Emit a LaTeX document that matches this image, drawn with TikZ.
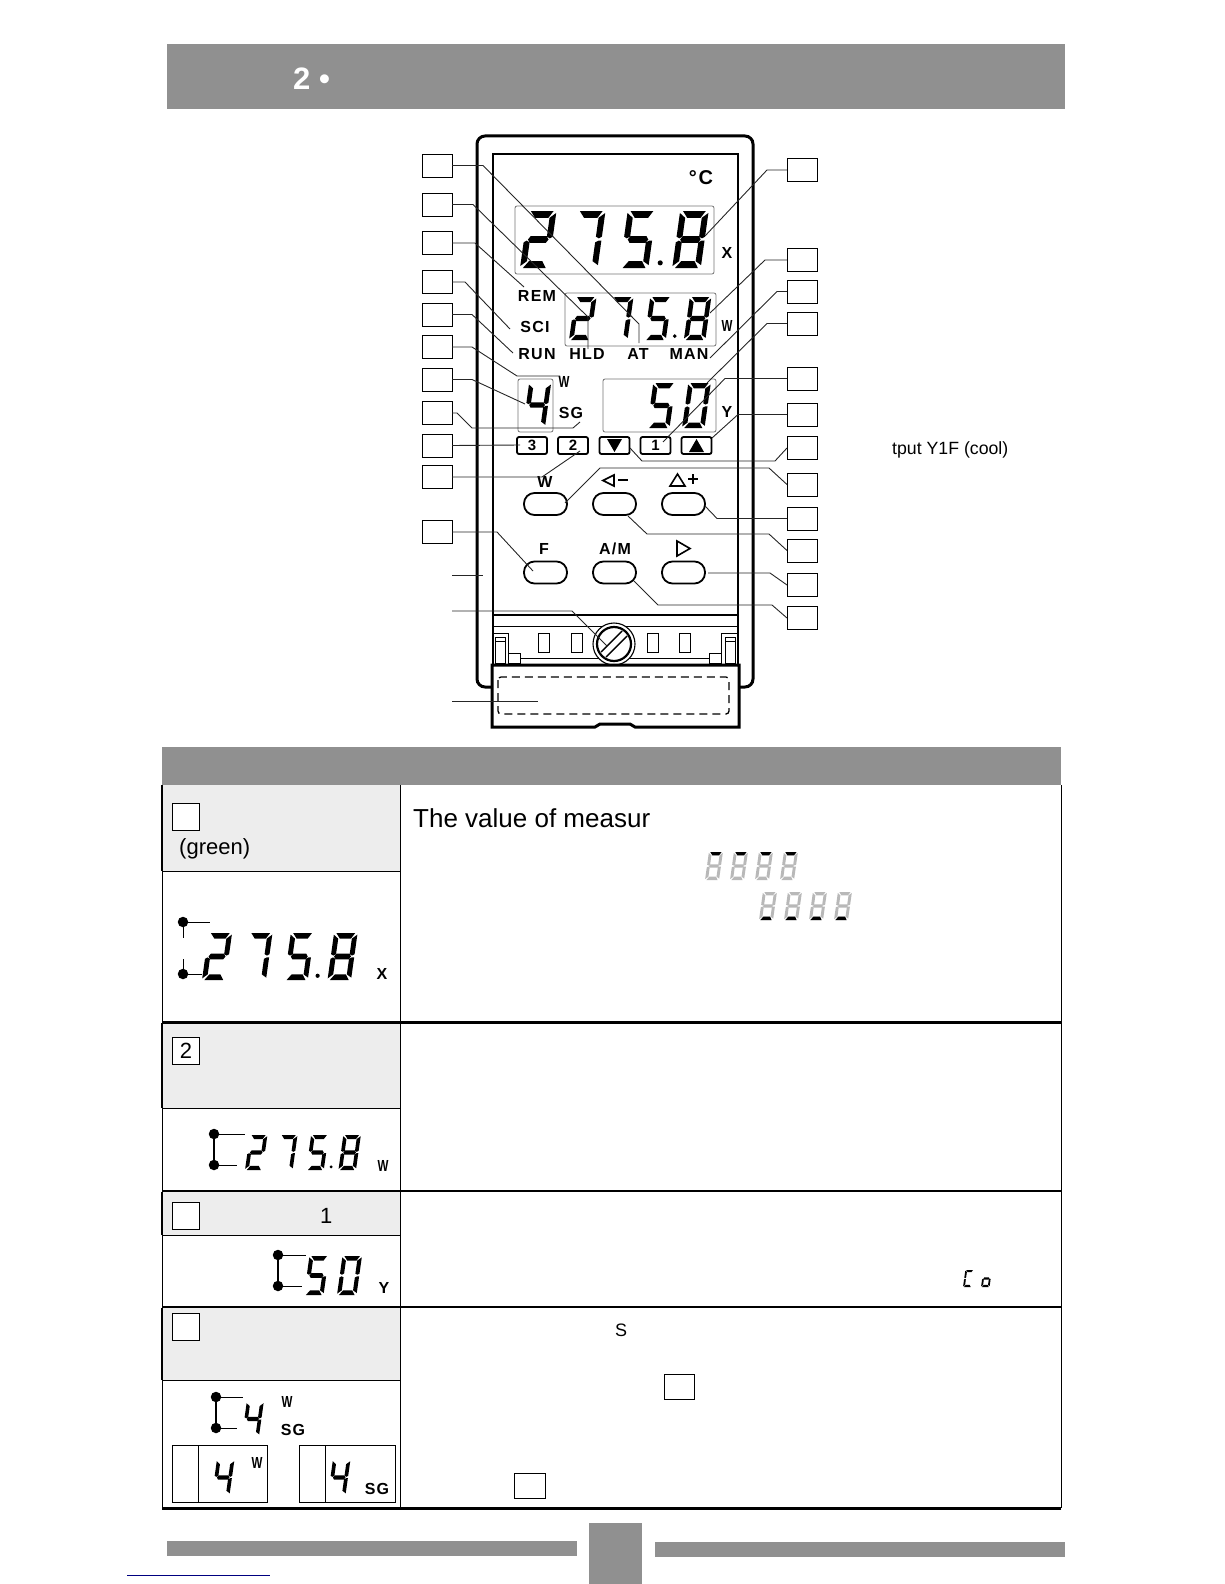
\documentclass[tikz,border=0pt]{standalone}
\usepackage{fontspec}
\usepackage{graphicx}
\setmainfont{Liberation Sans}
\newfontfamily\panelfont[LetterSpace=8]{Liberation Sans}

% segments of one display digit, 10 wide and 20 high
\def\sega{(1,20)--(9,20)--(7.5,17.6)--(2.8,17.6)--cycle}
\def\segb{(10,19.3)--(10,11)--(9,10.4)--(7.9,11)--(7.9,17.6)--cycle}
\def\segc{(10,9.6)--(10,1)--(7.9,2.4)--(7.9,9)--(9,9.6)--cycle}
\def\segd{(1,0)--(9,0)--(7.5,2.4)--(2.8,2.4)--cycle}
\def\sege{(0,9)--(0,.7)--(2.1,2.4)--(2.1,9)--(1,9.6)--cycle}
\def\segf{(0,19.3)--(2.1,17.6)--(2.1,11)--(1,10.4)--(0,11)--cycle}
\def\segg{(2.2,11.2)--(7.8,11.2)--(8.6,10)--(7.8,8.8)--(2.2,8.8)--(1.4,10)--cycle}
\def\dTwo{a,b,g,e,d}
\def\dFour{f,g,b,c}
\def\dFive{a,f,g,c,d}
\def\dSeven{a,b,c}
\def\dEight{a,b,c,d,e,f,g}
\def\dZero{a,b,c,d,e,f}
\def\dCee{a,f,e,d}
\def\dOh{g,c,d,e}
\newcommand{\narrowW}{\scalebox{.72}[1]{W}}

% [colour]{left}{bottom}{height}{segments}
\newcommand{\lcddigit}[5][black]{%
	\begin{scope}[shift={(#2,#3)},y=1pt,scale=#4/20,xslant=.14]
		\edef\seglist{#5}
		\foreach \s in \seglist
		\fill[#1] \csname seg\s\endcsname;
	\end{scope}}
% the value 275.8
\newcommand{\lcdvalue}[3]{%
	\lcddigit{#1}{#2}{#3}{\dTwo}
	\lcddigit{#1+.86*#3}{#2}{#3}{\dSeven}
	\lcddigit{#1+1.75*#3}{#2}{#3}{\dFive}
	\fill (#1+2.46*#3,#2-.09*#3) circle (.045*#3);
	\lcddigit{#1+2.67*#3}{#2}{#3}{\dEight}}

\tikzset{
	tagbox/.style={draw, line width=1pt, fill=white, minimum width=30pt, minimum height=23pt, inner sep=0pt, outer sep=0pt},
	leader/.style={line width=.9pt, black!85},
	lcdbox/.style={draw=black!55, line width=.8pt, rounded corners=2pt},
	keybox/.style={draw, line width=1.8pt, rounded corners=2pt},
	softkey/.style={draw, line width=1.8pt, rounded corners=10.5pt, fill=white},
	paneltext/.style={font=\fontsize{16}{18}\panelfont\bfseries, inner sep=0pt},
	bodytext/.style={font=\fontsize{#1}{#1}\selectfont, anchor=west, inner sep=0pt},
	rowline/.style={line width=1pt},
	boldline/.style={line width=3pt},
	pin/.style={circle, fill, inner sep=0pt, minimum size=10.5pt},
}

\begin{document}
\begin{tikzpicture}[x=1pt,y=-1pt]
	\useasboundingbox (0,0) rectangle (1224,1584);
	\definecolor{barg}{gray}{.565}
	\definecolor{cellg}{gray}{.93}

	% page bars
	\fill[barg] (167,44.5) rectangle (1065,109);
	\node[font=\fontsize{31}{31}\bfseries\selectfont, text=white, anchor=west, inner sep=0pt] (chapter) at (293,79) {2 •};
	\fill[barg] (167,1541) rectangle (577,1556);
	\fill[barg] (655,1542) rectangle (1065,1557);
	\fill[barg] (589,1523) rectangle (642,1584);
	\draw[blue!50!black, line width=1pt] (127,1575) -- (270,1575);

	% housing and front panel
	\draw[line width=3pt, rounded corners=8pt] (492,687) -- (477,687) -- (477,136) -- (753,136) -- (753,687) -- (739,687);
	\draw[line width=1.4pt] (493,665) -- (493,154) -- (738,154) -- (738,665);
	\draw[line width=1.4pt] (493,615) -- (738,615);
	\draw[line width=.8pt] (493,626) -- (738,626);

	\node[font=\fontsize{20}{20}\panelfont\bfseries, inner sep=0pt] (unit) at (701,178) {°C};
	\draw[lcdbox] (515,206) rectangle (714,274);
	\draw[lcdbox] (565,293) rectangle (716,346);
	\draw[lcdbox] (518,379) rectangle (553,432);
	\draw[lcdbox] (603,379) rectangle (716,432);
	\lcdvalue{520}{268}{57}
	\lcdvalue{569}{340}{43}
	\lcddigit{523}{427}{44}{\dFour}
	\lcddigit{647}{428}{45}{\dFive}
	\lcddigit{682}{428}{45}{\dZero}

	\node[paneltext] (rem) at (537,296) {REM};
	\node[paneltext] (sci) at (535,327) {SCI};
	\node[paneltext] (run) at (537,354) {RUN};
	\node[paneltext] (hld) at (587,354) {HLD};
	\node[paneltext] (at) at (638,354) {AT};
	\node[paneltext] (man) at (689,354) {MAN};
	\node[paneltext] (wsmall) at (564,382) {\narrowW};
	\node[paneltext] (sg) at (571,413) {SG};
	\node[paneltext] (xmark) at (727,253) {X};
	\node[paneltext] (wmark) at (727,326) {\narrowW};
	\node[paneltext] (ymark) at (727,412) {Y};

	% lamps under the displays
	\node[keybox, minimum width=30pt, minimum height=17pt, inner sep=0pt, font=\fontsize{15}{15}\bfseries\selectfont] (three) at (532,445.5) {3};
	\node[keybox, minimum width=30pt, minimum height=17pt, inner sep=0pt, font=\fontsize{15}{15}\bfseries\selectfont] (two) at (573,445.5) {2};
	\node[keybox, minimum width=30pt, minimum height=17pt, inner sep=0pt] (down) at (614.5,445.5) {};
	\node[keybox, minimum width=30pt, minimum height=17pt, inner sep=0pt, font=\fontsize{15}{15}\bfseries\selectfont] (one) at (655.5,445.5) {1};
	\node[keybox, minimum width=30pt, minimum height=17pt, inner sep=0pt] (up) at (696.5,445.5) {};
	\fill (607,439) -- (622,439) -- (614.5,452) -- cycle;
	\fill (689,452) -- (704,452) -- (696.5,439) -- cycle;

	% keys
	\node[softkey, minimum width=43pt, minimum height=22pt, inner sep=0pt] (kw) at (545.5,504) {};
	\node[softkey, minimum width=43pt, minimum height=22pt, inner sep=0pt] (kminus) at (614.5,504) {};
	\node[softkey, minimum width=43pt, minimum height=22pt, inner sep=0pt] (kplus) at (683.5,504) {};
	\node[softkey, minimum width=43pt, minimum height=22pt, inner sep=0pt] (kf) at (545.5,572.5) {};
	\node[softkey, minimum width=43pt, minimum height=22pt, inner sep=0pt] (kam) at (614.5,572.5) {};
	\node[softkey, minimum width=43pt, minimum height=22pt, inner sep=0pt] (kright) at (683.5,572.5) {};
	\node[paneltext] (lw) at (545,482) {W};
	\node[paneltext] (lf) at (544,549) {F};
	\node[paneltext] (lam) at (615,549) {A/M};
	\draw[line width=1.6pt] (614,475) -- (603,480.5) -- (614,486) -- cycle;
	\draw[line width=1.6pt] (618,480) -- (628,480);
	\draw[line width=1.6pt] (670,486) -- (685,486) -- (677.5,474) -- cycle;
	\draw[line width=1.6pt] (688,479) -- (698,479) (693,474) -- (693,484);
	\draw[line width=1.6pt] (677,541) -- (690,548.5) -- (677,556) -- cycle;

	% lower strip with the screw
	\foreach \x in {538,571,647,679}
	\draw[line width=1pt] (\x,633) rectangle (\x+11,652);
	\draw[line width=1pt] (493,633) -- (508,633) -- (508,663);
	\draw[line width=.9pt] (495,637) rectangle (505,663) (495,641) -- (505,641);
	\draw[line width=1pt] (737,633) -- (721,633) -- (721,663);
	\draw[line width=.9pt] (725,637) rectangle (735,663) (725,641) -- (735,641);
	\draw[line width=1pt] (508,653) rectangle (520,663);
	\draw[line width=1pt] (709,653) rectangle (721,663);
	\draw[line width=1pt] (520,658) -- (709,658);
	\filldraw[fill=white, line width=1.1pt] (614,644) circle (21);
	\filldraw[fill=white, line width=2.2pt] (614,644) circle (17);
	\draw[line width=1.4pt] (601,652) -- (622,631) (606,657) -- (627,636);

	% cover
	\draw[line width=3pt, fill=white] (492,665) -- (739,665) -- (739,727) -- (635,727) -- (630,724) -- (600,724) -- (595,727) -- (492,727) -- cycle;
	\draw[line width=1.3pt, dash pattern=on 8pt off 5pt, rounded corners=3pt] (498,677) rectangle (729,714);

	% number tags
	\foreach \i/\y in {1/165.5,2/204.5,3/243,4/282,5/314.5,6/347,7/379.5,8/413,9/445.5,10/477,11/532}
	\node[tagbox] (L\i) at (437,\y) {};
	\foreach \i/\y in {1/170,2/260,3/291.5,4/323.5,5/378.5,6/414.5,7/448,8/484.5,9/518.5,10/550.5,11/585,12/618}
	\node[tagbox] (R\i) at (802,\y) {};

	% free ends
	\foreach \n/\p in {t1/{639,343},t2/{588,349},t3/{524,287},t4/{510,329},t5/{513,353},t6/{560,376},t7/{525,404},t8/{580,422},t9/{520,445},t10/{580,451},t11/{533,571},
		u1/{705,236},u2/{710,313},u3/{710,358},u4/{707,383},u5/{663,442},u6/{712,438},u7/{630,448},u8/{565,503},u9/{705,506},u10/{628,516},u11/{708,573},u12/{634,581},
		f1/{452,575},f2/{483,575},f3/{452,611},f4/{607,646},f5/{452,701},f6/{538,701}}
	\coordinate (\n) at (\p);

	\draw[leader] (L1.east) -- ++(31,0) -- (639,324) -- (t1);
	\draw[leader] (L2.east) -- ++(21,0) -- (588,317) -- (t2);
	\draw[leader] (L3.east) -- ++(23,0) -- (t3);
	\draw[leader] (L4.east) -- ++(13,0) -- (t4);
	\draw[leader] (L5.east) -- ++(20,0) -- (t5);
	\draw[leader] (L6.east) -- ++(20,0) -- (517,376) -- (t6);
	\draw[leader] (L7.east) -- ++(20,0) -- (t7);
	\draw[leader] (L8.east) -- ++(5,0) -- (472,428) -- (573,428) -- (t8);
	\draw[leader] (L9.east) -- (t9);
	\draw[leader] (L10.east) -- ++(90,0) -- (t10);
	\draw[leader] (L11.east) -- ++(45,0) -- (t11);

	\draw[leader] (R1.west) -- ++(-20,0) -- (u1);
	\draw[leader] (R2.west) -- ++(-22,0) -- (u2);
	\draw[leader] (R3.west) -- ++(-10,0) -- (u3);
	\draw[leader] (R4.west) -- ++(-20,0) -- (u4);
	\draw[leader] (R5.west) -- ++(-62,0) -- (u5);
	\draw[leader] (R6.west) -- ++(-49,0) -- (u6);
	\draw[leader] (R7.west) -- (775,461) -- (642,461) -- (u7);
	\draw[leader] (R8.west) -- (769,468) -- (600,468) -- (u8);
	\draw[leader] (R9.west) -- ++(-70,0) -- (u9);
	\draw[leader] (R10.west) -- (769,534) -- (647,534) -- (u10);
	\draw[leader] (R11.west) -- (770,573) -- (u11);
	\draw[leader] (R12.west) -- (772,605) -- (658,605) -- (u12);

	\draw[leader] (f1) -- (f2);
	\draw[leader] (f3) -- (572,611) -- (f4);
	\draw[leader] (f5) -- (f6);

	\node[bodytext=17.7] (cool) at (892,450) {tput Y1F (cool)};

	% table
	\fill[barg] (162,747) rectangle (1061,785);
	\fill[cellg] (162,785) rectangle (400,871);
	\fill[cellg] (162,1023) rectangle (400,1108);
	\fill[cellg] (162,1192) rectangle (400,1235);
	\fill[cellg] (162,1308) rectangle (400,1380);
	\draw[rowline] (162,785) -- (162,1508) (400,785) -- (400,1508) (1061,785) -- (1061,1508);
	\draw[line width=2pt] (162,785) -- (162,871) (162,1023) -- (162,1108) (162,1192) -- (162,1235) (162,1308) -- (162,1380);
	\draw[rowline] (162,871) -- (400,871) (162,1108) -- (400,1108) (162,1235) -- (400,1235) (162,1380) -- (400,1380);
	\draw[boldline] (162,1022) -- (1061,1022);
	\draw[line width=2.2pt] (162,1191) -- (1061,1191);
	\draw[line width=2.4pt] (162,1307) -- (1061,1307);
	\draw[boldline] (162,1508.5) -- (1061,1508.5);

	% squares in the first column
	\foreach \n/\y/\t in {a/803/,b/1037/2,c/1202/,d/1313/}
	\node[tagbox, fill=white, minimum width=27pt, minimum height=27pt, anchor=north west, font=\fontsize{22}{22}\selectfont] (sq\n) at (172.5,\y) {\t};
	\node[bodytext=22] (green) at (179,849) {(green)};
	\node[bodytext=22] (outone) at (320,1216) {1};

	% row 1
	\node[bodytext=26] (measured) at (413,818) {The value of measur};
	\foreach \x in {705,730,755,780}{
		\lcddigit[black!28]{\x}{880}{28}{\dEight}
		\lcddigit{\x}{880}{28}{a}}
	\foreach \x in {759,784,809,834}{
		\lcddigit[black!28]{\x}{920}{28}{\dEight}
		\lcddigit{\x}{920}{28}{d}}
	\node[pin] (p1) at (183,922) {};
	\node[pin] (p2) at (183,974) {};
	\coordinate (p1a) at (210,922);
	\coordinate (p1b) at (183,938);
	\coordinate (p2a) at (202,974);
	\coordinate (p2b) at (183,959);
	\draw[line width=1pt] (p1) -- (p1a) (p1) -- (p1b) (p2) -- (p2a) (p2) -- (p2b);
	\lcdvalue{202}{980}{47}
	\node[paneltext] (x1) at (382,974) {X};

	% row 2
	\node[pin] (p3) at (214,1134) {};
	\node[pin] (p4) at (214,1165) {};
	\coordinate (p3a) at (245,1134);
	\coordinate (p4a) at (237,1165);
	\draw[line width=2pt] (p3) -- (p4);
	\draw[line width=1pt] (p3) -- (p3a) (p4) -- (p4a);
	\lcdvalue{245}{1170}{35}
	\node[paneltext] (w2) at (383,1166) {\narrowW};

	% row 3
	\node[pin] (p5) at (278,1255) {};
	\node[pin] (p6) at (278,1286) {};
	\coordinate (p5a) at (306,1255);
	\coordinate (p6a) at (302,1286);
	\draw[line width=2pt] (p5) -- (p6);
	\draw[line width=1pt] (p5) -- (p5a) (p6) -- (p6a);
	\lcddigit{304}{1295}{39}{\dFive}
	\lcddigit{337}{1295}{39}{\dZero}
	\node[paneltext] (y3) at (384,1288) {Y};
	\lcddigit{963}{1287}{17}{\dCee}
	\lcddigit{981}{1287}{17}{\dOh}

	% row 4
	\node[pin] (p7) at (216,1397) {};
	\node[pin] (p8) at (216,1428) {};
	\coordinate (p7a) at (243,1397);
	\coordinate (p8a) at (237,1428);
	\draw[line width=2pt] (p7) -- (p8);
	\draw[line width=1pt] (p7) -- (p7a) (p8) -- (p8a);
	\lcddigit{242}{1436}{34}{\dFour}
	\node[paneltext] (w4) at (287,1402) {\narrowW};
	\node[paneltext] (sg4) at (293,1430) {SG};
	\draw[line width=1pt] (172,1445) rectangle (267,1502) (198,1445) -- (198,1502);
	\draw[line width=1pt] (299,1445) rectangle (395,1502) (325,1445) -- (325,1502);
	\lcddigit{212}{1495}{35}{\dFour}
	\lcddigit{328}{1495}{35}{\dFour}
	\node[paneltext] (w5) at (257,1463) {\narrowW};
	\node[paneltext] (sg5) at (377,1489) {SG};
	\node[bodytext=18] (sign) at (615,1330) {S};
	\node[tagbox, minimum height=25pt] (ref1) at (679,1386.5) {};
	\node[tagbox, minimum height=25pt, minimum width=31pt] (ref2) at (529.5,1485.5) {};
\end{tikzpicture}
\end{document}
